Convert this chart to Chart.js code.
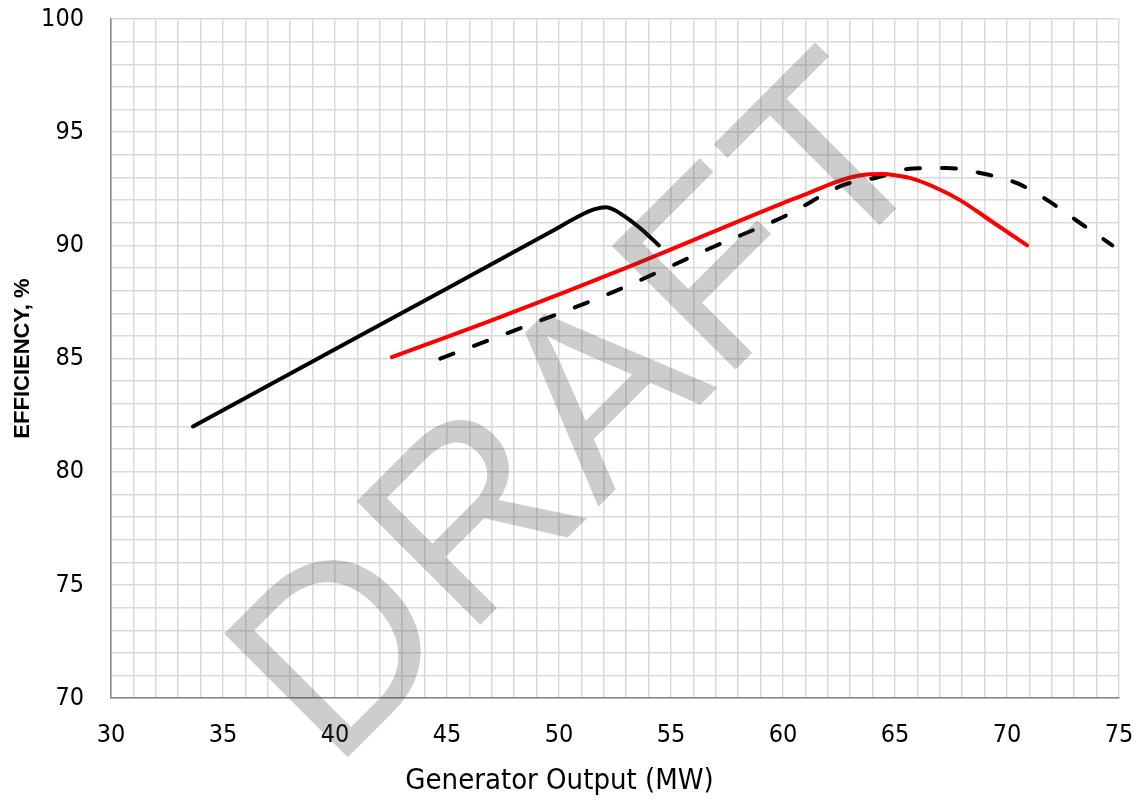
<!DOCTYPE html>
<html>
<head>
<meta charset="utf-8">
<script src="https://cdn.jsdelivr.net/npm/chart.js@4/dist/chart.umd.min.js"></script>
<style>
	html, body { margin: 0; padding: 0; background: #fff; }
	#wrap { width: 1140px; height: 803px; }
</style>
</head>
<body>
<div id="wrap"><canvas id="effChart" width="1140" height="803"></canvas></div>
<script>
// generator output (MW) and efficiency (%)
var blackX = [33.66, 40, 45, 49.7, 51.1, 51.6, 52.1, 52.5, 52.9, 53.5, 54.0, 54.46];
var blackY = [82.0, 85.41, 88.1, 90.64, 91.4, 91.6, 91.68, 91.55, 91.3, 90.86, 90.43, 90.0];

var redX = [42.54, 47.37, 53.3, 60.0, 61.0, 62.23, 63.0, 63.75, 64.46, 65.0, 65.7, 66.7, 67.9, 69.4, 70.9];
var redY = [85.06, 86.83, 89.13, 91.87, 92.25, 92.75, 93.0, 93.13, 93.15, 93.1, 92.97, 92.6, 92.0, 91.0, 90.0];

var dashX = [44.7, 47.68, 52.41, 56.88, 60.18, 62.68, 64.2, 65.8, 67.3, 68.8, 70.45, 71.8, 73.1, 74.7];
var dashY = [85.0, 86.12, 87.94, 89.93, 91.34, 92.66, 93.0, 93.4, 93.42, 93.2, 92.75, 92.0, 91.1, 90.0];

var xMin = 30, xMax = 75, yMin = 70, yMax = 100;
var xTitle = "Generator Output (MW)";
var yTitle = "EFFICIENCY, %";
var watermark = "DRAFT";

var tickFont = "'DejaVu Sans Condensed', 'DejaVu Sans', Tahoma, sans-serif";

function toPoints(xs, ys) {
	return xs.map(function (x, i) { return { x: x, y: ys[i] }; });
}

// semi-transparent grey stamp drawn over the curves
var draftPlugin = {
	id: "draft",
	afterDatasetsDraw: function (chart) {
		var ctx = chart.ctx;
		ctx.save();
		ctx.translate(333, 772);
		ctx.rotate(-Math.PI / 4);
		ctx.font = "254px 'Liberation Sans', Arial, sans-serif";
		ctx.letterSpacing = "4px";
		ctx.fillStyle = "rgba(60,60,60,0.26)";
		ctx.textAlign = "left";
		ctx.textBaseline = "alphabetic";
		ctx.fillText(watermark, 0, 0);
		ctx.restore();
	}
};

var ctx = document.getElementById("effChart").getContext("2d");
new Chart(ctx, {
	type: "scatter",
	data: {
		datasets: [
			{
				data: toPoints(blackX, blackY),
				showLine: true,
				borderColor: "#000000",
				borderWidth: 4,
				borderCapStyle: "round",
				pointRadius: 0,
				cubicInterpolationMode: "monotone"
			},
			{
				data: toPoints(redX, redY),
				showLine: true,
				borderColor: "#ff0000",
				borderWidth: 4,
				borderCapStyle: "round",
				pointRadius: 0,
				cubicInterpolationMode: "monotone"
			},
			{
				data: toPoints(dashX, dashY),
				showLine: true,
				borderColor: "#000000",
				borderWidth: 4,
				borderCapStyle: "round",
				borderDash: [14, 22],
				pointRadius: 0,
				cubicInterpolationMode: "monotone"
			}
		]
	},
	options: {
		responsive: false,
		animation: false,
		layout: { padding: { top: 19, right: 21, left: 0, bottom: 0 } },
		plugins: {
			legend: { display: false },
			tooltip: { enabled: false },
			title: {
				display: true,
				position: "bottom",
				text: xTitle,
				color: "#000",
				font: { family: tickFont, size: 29, weight: "normal" },
				padding: { top: 0, bottom: 4 }
			}
		},
		scales: {
			x: {
				type: "linear",
				min: xMin,
				max: xMax,
				afterFit: function (scale) {
					scale.height = 66;
					scale.paddingLeft = 0;
					scale.paddingRight = 0;
				},
				grid: { color: "#d9d9d9", lineWidth: 1.5, drawTicks: false },
				border: { color: "#868686", width: 1.5 },
				ticks: {
					stepSize: 1,
					autoSkip: false,
					maxRotation: 0,
					padding: 22,
					color: "#000",
					font: { family: tickFont, size: 25 },
					callback: function (v) { return v % 5 === 0 ? v : ""; }
				}
			},
			y: {
				type: "linear",
				min: yMin,
				max: yMax,
				afterFit: function (scale) {
					scale.width = 111;
					scale.paddingTop = 0;
					scale.paddingBottom = 0;
				},
				grid: { color: "#d9d9d9", lineWidth: 1.5, drawTicks: false },
				border: { color: "#868686", width: 1.5 },
				ticks: {
					stepSize: 1,
					autoSkip: false,
					padding: 27,
					color: "#000",
					font: { family: tickFont, size: 25 },
					callback: function (v) { return v % 5 === 0 ? v : ""; }
				},
				title: {
					display: true,
					text: yTitle,
					color: "#000",
					font: { family: "'Liberation Sans', Arial, sans-serif", size: 22, weight: "bold" },
					padding: { top: 10, bottom: 4 }
				}
			}
		}
	},
	plugins: [draftPlugin]
});
</script>
</body>
</html>
